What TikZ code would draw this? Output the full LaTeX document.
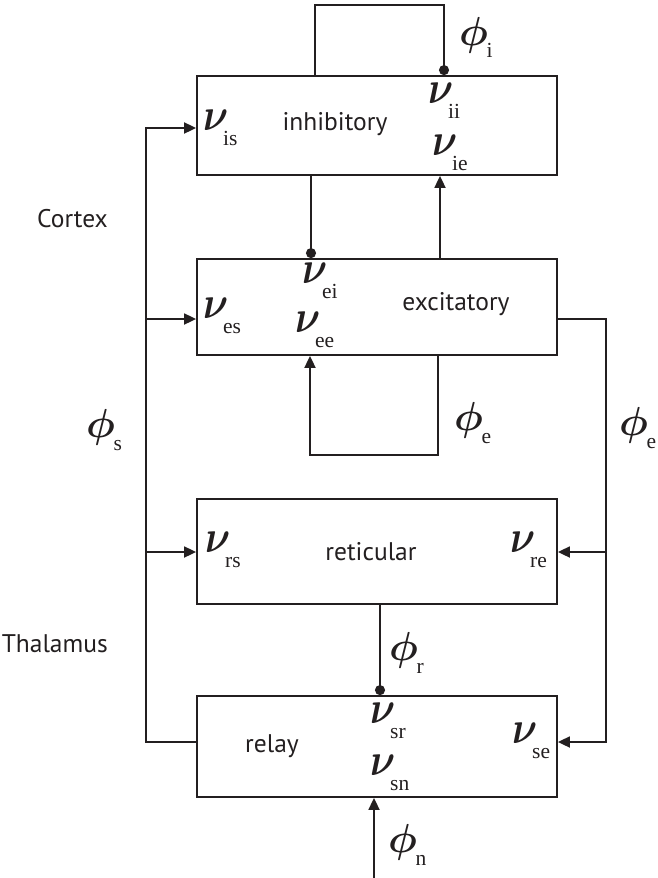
\documentclass[tikz,border=0pt]{standalone}
\usepackage{fontspec}
\usepackage{amsmath}
\usepackage{graphicx}
\setmainfont{PT Sans}
\newfontfamily\subf{Liberation Serif}
\usetikzlibrary{arrows.meta}
\definecolor{ink}{HTML}{231F20}
\newcommand\nuv[1]{\makebox[20pt][l]{\scalebox{3.9}[4.6]{$\boldsymbol{\nu}$}}\raisebox{-15pt}{\subf\fontsize{21.5}{22}\selectfont #1}}
\newcommand\phv[1]{\makebox[27.5pt][l]{\scalebox{4.05}{$\boldsymbol{\phi}$}}\raisebox{-13pt}{\subf\fontsize{21.5}{22}\selectfont #1}}
\begin{document}
\begin{tikzpicture}[x=1pt,y=-1pt,
 blk/.style={draw=ink, line width=1.8pt, rectangle, minimum width=360pt, inner sep=0pt},
 conn/.style={draw=ink, line width=1.8pt},
 arr/.style={conn, -{Triangle[length=12pt,width=11pt]}},
 dotc/.style={conn, -{Circle[length=10pt]}},
 txt/.style={font=\fontsize{25.5}{30}\selectfont, text=ink, inner sep=0pt},
 sym/.style={text=ink, inner sep=0pt, anchor=base west}]
\useasboundingbox (0,0) rectangle (657,878);
% blocks
\node[blk, minimum height=99pt] (inh) at (377,125.5) {};
\node[blk, minimum height=96pt] (exc) at (377,307) {};
\node[blk, minimum height=105pt] (ret) at (377,551.5) {};
\node[blk, minimum height=101pt] (rel) at (377,746.5) {};
% bus coordinates
\coordinate (lbtop) at (146,128);
\coordinate (lbbot) at (146,742);
\coordinate (rbtop) at (606,319);
\coordinate (rbbot) at (606,742);
\coordinate (iltl) at (315,5);
\coordinate (iltr) at (444,5);
\coordinate (elbr) at (438,455);
\coordinate (elbl) at (310,455);
\coordinate (nin) at (374,878);
% connectors
\draw[dotc] (315,0 |- inh.north) -- (iltl) -- (iltr) -- (444,0 |- inh.north);
\draw[dotc] (311,0 |- inh.south) -- (311,0 |- exc.north);
\draw[arr] (440,0 |- exc.north) -- (440,0 |- inh.south);
\draw[arr] (438,0 |- exc.south) -- (elbr) -- (elbl) -- (310,0 |- exc.south);
\draw[arr] (exc.east |- rbtop) -- (rbtop) -- (rbbot) -- (rel.east |- rbbot);
\draw[arr] (606,552) -- (ret.east |- 0,552);
\draw[arr] (rel.west |- lbbot) -- (lbbot) -- (lbtop) -- (inh.west |- lbtop);
\draw[arr] (146,319) -- (exc.west |- 0,319);
\draw[arr] (146,552) -- (ret.west |- 0,552);
\draw[dotc] (380,0 |- ret.south) -- (380,0 |- rel.north);
\draw[arr] (nin) -- (374,0 |- rel.south);
% texts
\node[txt, anchor=base] (tinh) at (335,130) {inhibitory};
\node[txt, anchor=base] (texc) at (456,310) {excitatory};
\node[txt, anchor=base] (tret) at (371,560) {reticular};
\node[txt, anchor=base] (trel) at (272,752) {relay};
\node[txt, anchor=base east] (tctx) at (108,227) {Cortex};
\node[txt, anchor=base east] (tthal) at (108,652) {Thalamus};
% nu labels
\node[sym] (vis) at (203,130) {\nuv{is}};
\node[sym] (vii) at (428,103) {\nuv{ii}};
\node[sym] (vie) at (432,155) {\nuv{ie}};
\node[sym] (vei) at (302,283) {\nuv{ei}};
\node[sym] (ves) at (203,318) {\nuv{es}};
\node[sym] (vee) at (295,332) {\nuv{ee}};
\node[sym] (vrs) at (205,552) {\nuv{rs}};
\node[sym] (vre) at (510,552) {\nuv{re}};
\node[sym] (vsr) at (370,723) {\nuv{sr}};
\node[sym] (vse) at (512,743) {\nuv{se}};
\node[sym] (vsn) at (370,775) {\nuv{sn}};
% phi labels
\node[sym] (pi) at (459,45) {\phv{i}};
\node[sym] (pe1) at (454,430) {\phv{e}};
\node[sym] (pe2) at (619,435) {\phv{e}};
\node[sym] (ps) at (86,437) {\phv{s}};
\node[sym] (pr) at (389,660) {\phv{r}};
\node[sym] (pn) at (388,852) {\phv{n}};
\end{tikzpicture}
\end{document}
